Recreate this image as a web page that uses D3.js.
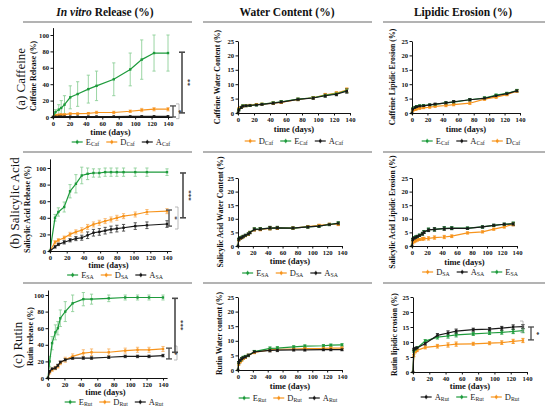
<!DOCTYPE html>
<html>
<head>
<meta charset="utf-8">
<script src="https://cdn.jsdelivr.net/npm/d3@7"></script>
<style>
  body { margin: 0; background: #fff; }
  svg { display: block; }
  text { font-family: "Liberation Serif", "Times New Roman", serif; }
</style>
</head>
<body>
<svg id="fig" width="550" height="409"></svg>
<script>
// ---- tick labels ----
var xTicks = [0, 20, 40, 60, 80, 100, 120, 140];
var relTicks = [0, 20, 40, 60, 80, 100];
var pctTicks = [0, 5, 10, 15, 20, 25];

// ---- (a) caffeine ----
var cafRelDays = [0, 3, 7, 10, 14, 21, 30, 43, 53, 74, 94, 108, 123, 140];
var cafRelE   = [0, 6, 9, 11, 15, 24, 28, 34, 38, 46, 58, 70, 78, 78];
var cafRelEsd = [0, 3, 6, 9, 11, 14, 15, 17, 18, 20, 20, 24, 22, 22];
var cafRelD   = [0, 2, 2.5, 3, 3, 4, 4, 4.5, 5.5, 5.5, 7, 8.5, 9.5, 9.5];
var cafRelDsd = [0, 1, 1, 1, 1, 1, 1, 1, 1.5, 1.5, 1.5, 2, 2, 2];
var cafRelA   = [0, 0.3, 0.4, 0.4, 0.5, 0.5, 0.5, 0.5, 0.6, 0.6, 0.7, 0.8, 0.8, 0.8];
var cafRelAsd = [0, 0.2, 0.2, 0.2, 0.2, 0.2, 0.2, 0.3, 0.3, 0.3, 0.3, 0.3, 0.3, 0.3];

var cafDays  = [0, 1, 4, 6, 10, 15, 23, 30, 44, 54, 75, 94, 109, 123, 136];
var cafWatD  = [0, 1.5, 2.0, 2.4, 2.5, 2.7, 3.0, 3.1, 3.4, 3.7, 4.7, 5.3, 6.3, 6.9, 8.0];
var cafWatE  = [0, 1.2, 2.0, 2.5, 2.5, 2.6, 2.8, 3.1, 3.5, 3.9, 4.8, 5.3, 6.1, 6.7, 7.8];
var cafWatA  = [0, 1.0, 1.9, 2.4, 2.5, 2.6, 2.8, 3.0, 3.4, 3.8, 4.7, 5.2, 6.0, 6.5, 7.6];
var cafWatSd = [0, 0.3, 0.3, 0.3, 0.3, 0.3, 0.3, 0.3, 0.4, 0.4, 0.4, 0.4, 0.5, 0.5, 0.7];
var cafEroE  = [0, 1.5, 2.0, 2.3, 2.5, 2.6, 2.8, 3.0, 3.5, 3.8, 4.6, 5.2, 6.2, 6.8, 7.8];
var cafEroA  = [0, 1.3, 1.9, 2.2, 2.4, 2.5, 2.8, 3.1, 3.5, 3.9, 4.6, 5.1, 6.0, 6.7, 7.7];
var cafEroD  = [0, 0.8, 1.2, 1.4, 1.6, 1.8, 2.0, 2.3, 2.6, 2.9, 3.4, 4.8, 5.5, 6.4, 7.6];
var cafEroSd = [0, 0.3, 0.3, 0.3, 0.3, 0.3, 0.3, 0.3, 0.4, 0.4, 0.4, 0.4, 0.4, 0.4, 0.4];

// ---- (b) salicylic acid ----
var saRelDays = [0, 6, 10, 17, 24, 31, 38, 45, 52, 59, 66, 73, 80, 88, 102, 116, 140];
var saRelE   = [0, 40, 47, 53, 72, 81, 91, 93, 94, 94, 95, 95, 95, 95, 95, 95, 95];
var saRelEsd = [0, 4, 5, 6, 8, 11, 10, 7, 5, 5, 5, 5, 5, 5, 5, 5, 4];
var saRelD   = [0, 10.5, 13, 16, 20, 23, 25, 29, 32, 34, 36, 38, 40, 42, 44, 47, 48];
var saRelDsd = [0, 2, 2, 2, 2.5, 2.5, 3, 3, 3, 3, 3, 3, 3, 3, 3, 3, 3];
var saRelA   = [0, 5, 8, 10.5, 13, 15, 16, 19, 22, 23, 24.5, 26, 27, 28, 30, 31, 32.5];
var saRelAsd = [0, 1.5, 1.5, 2, 2, 2.5, 3, 4, 4, 4, 4, 4, 4, 4, 4, 4, 4];

var saDays  = [0, 1, 3, 5, 7, 10, 14, 16, 22, 30, 43, 53, 74, 94, 109, 123, 135];
var saWatE  = [0, 2.5, 3.0, 3.2, 3.5, 3.9, 4.4, 5.0, 6.2, 6.3, 6.6, 6.7, 6.6, 7.0, 7.3, 7.9, 8.4];
var saWatD  = [0, 2.2, 2.8, 3.1, 3.4, 3.8, 4.3, 5.0, 6.0, 6.1, 6.5, 6.6, 6.6, 7.1, 7.6, 8.0, 8.0];
var saWatA  = [0, 2.4, 2.9, 3.1, 3.5, 3.9, 4.4, 4.9, 6.1, 6.2, 6.6, 6.7, 6.6, 7.0, 7.3, 7.9, 8.3];
var saWatSd = [0, 0.4, 0.4, 0.4, 0.4, 0.4, 0.4, 0.4, 0.5, 0.5, 0.6, 0.5, 0.4, 0.4, 0.4, 0.4, 0.5];
var saEroE  = [0, 2.5, 3.0, 3.3, 3.5, 4.0, 4.5, 5.2, 6.0, 6.1, 6.5, 6.6, 6.6, 7.0, 7.6, 8.0, 8.2];
var saEroA  = [0, 2.3, 2.9, 3.2, 3.5, 3.9, 4.5, 5.1, 5.9, 6.1, 6.4, 6.5, 6.5, 7.0, 7.6, 8.0, 8.1];
var saEroD  = [0, 1.2, 1.6, 1.9, 2.2, 2.4, 2.6, 2.7, 2.8, 3.1, 3.3, 3.6, 4.8, 5.2, 6.2, 7.0, 8.0];
var saEroSd = [0, 0.4, 0.4, 0.4, 0.4, 0.4, 0.5, 0.5, 0.6, 0.6, 0.6, 0.5, 0.4, 0.4, 0.4, 0.4, 0.6];

// ---- (c) rutin ----
var rutRelDays = [0, 2, 5, 9, 12, 15, 21, 30, 43, 53, 74, 94, 109, 123, 140];
var rutRelE   = [0, 20, 42, 55, 60, 72, 80, 90, 95, 95, 96, 97, 97, 97, 97];
var rutRelEsd = [0, 6, 8, 9, 8, 10, 12, 10, 8, 6, 4, 3, 3, 3, 3];
var rutRelD   = [0, 7, 10, 12, 14, 18, 22, 26, 30, 31, 31, 33, 34, 34, 35];
var rutRelDsd = [0, 2, 2, 2, 2, 2, 3, 3, 4, 4, 4, 3, 3, 3, 3];
var rutRelA   = [0, 8, 11, 12, 15, 19, 22, 24, 24, 24, 25, 26, 26, 26, 27];
var rutRelAsd = [0, 1, 1, 1.5, 1.5, 1.5, 1.5, 1.5, 1.5, 1.5, 1.5, 1.5, 1.5, 1.5, 1.5];

var rutWatDays = [0, 1, 3, 5, 7, 10, 14, 22, 43, 53, 75, 90, 115, 125, 140];
var rutWatE  = [0, 2.5, 3.2, 3.8, 4.3, 4.6, 5.0, 6.3, 7.4, 7.5, 7.9, 8.2, 8.3, 8.5, 8.6];
var rutWatD  = [0, 2.0, 2.8, 3.4, 4.0, 4.4, 5.0, 6.0, 6.9, 7.1, 7.2, 7.3, 7.4, 7.5, 7.5];
var rutWatA  = [0, 2.5, 3.3, 3.8, 4.2, 4.5, 5.0, 6.2, 6.7, 6.8, 6.9, 6.9, 7.0, 7.0, 7.0];
var rutWatSd = [0, 0.4, 0.4, 0.4, 0.4, 0.4, 0.4, 0.4, 0.5, 0.5, 0.4, 0.4, 0.4, 0.4, 0.4];

var rutEroDays = [0, 1, 3, 5, 15, 30, 43, 53, 74, 94, 109, 123, 135];
var rutEroA  = [0, 7.5, 7.8, 8.0, 9.5, 12.2, 13.0, 13.6, 14.1, 14.3, 14.6, 15.0, 15.1];
var rutEroE  = [0, 7.0, 7.5, 8.0, 10.3, 11.6, 12.0, 12.4, 12.7, 13.0, 13.2, 13.5, 13.8];
var rutEroD  = [0, 5.5, 6.8, 7.2, 8.2, 8.6, 9.0, 9.3, 9.4, 9.6, 9.8, 10.2, 10.5];
var rutEroSd = [0, 0.4, 0.4, 0.4, 0.5, 0.6, 0.7, 0.7, 0.5, 0.5, 0.6, 0.7, 0.7];

var colHeads = ["Release (%)", "Water Content (%)", "Lipidic Erosion (%)"];
var rowLabels = ["(a) Caffeine", "(b) Salicylic Acid", "(c) Rutin"];

var svg = d3.select("#fig");
var serif = '"Liberation Serif", "Times New Roman", serif';
var col = { E: "#1e9b3c", D: "#f7941d", A: "#1a1a1a" };
var softCol = { E: "#8fd09a", D: "#f8b468", A: "#444" };

// panel layout (pixel boxes) + references to the data arrays
var panels = [
  { left: 53, right: 168, bottom: 117, top: 35, yMax: 100, yExt: 109, xExt: 145, ticks: relTicks, soft: true,
    title: "Caffeine Release (%)", tx: 36, timeY: 135, legX: 121, legY: 142, sub: "Caf", order: ["E", "D", "A"],
    days: cafRelDays, E: [cafRelE, cafRelEsd], D: [cafRelD, cafRelDsd], A: [cafRelA, cafRelAsd] },
  { left: 238, right: 350, bottom: 113, top: 41, yMax: 25, yExt: 25, xExt: 140, ticks: pctTicks,
    title: "Caffeine Water Content (%)", tx: 220, timeY: 132, legX: 294, legY: 141, sub: "Caf", order: ["D", "E", "A"],
    days: cafDays, E: [cafWatE, cafWatSd], D: [cafWatD, cafWatSd], A: [cafWatA, cafWatSd] },
  { left: 412, right: 520, bottom: 113, top: 41, yMax: 25, yExt: 25, xExt: 140, ticks: pctTicks,
    title: "Caffeine Lipidic Erosion (%)", tx: 395, timeY: 132, legX: 471, legY: 141, sub: "Caf", order: ["E", "A", "D"],
    days: cafDays, E: [cafEroE, cafEroSd], D: [cafEroD, cafEroSd], A: [cafEroA, cafEroSd] },
  { left: 50, right: 167, bottom: 251, top: 168, yMax: 100, yExt: 111, xExt: 145, ticks: relTicks, soft: true,
    title: "Salicylic Acid Release (%)", tx: 30, timeY: 268, legX: 115, legY: 275, sub: "SA", order: ["E", "D", "A"],
    days: saRelDays, E: [saRelE, saRelEsd], D: [saRelD, saRelDsd], A: [saRelA, saRelAsd] },
  { left: 238, right: 342, bottom: 246, top: 178, yMax: 25, yExt: 25, xExt: 140, ticks: pctTicks,
    title: "Salicylic Acid Water Content (%)", tx: 223, timeY: 264, legX: 290, legY: 273, sub: "SA", order: ["E", "D", "A"],
    days: saDays, E: [saWatE, saWatSd], D: [saWatD, saWatSd], A: [saWatA, saWatSd] },
  { left: 412, right: 517, bottom: 246, top: 178, yMax: 25, yExt: 25, xExt: 140, ticks: pctTicks,
    title: "Salicylic Acid Lipidic Erosion (%)", tx: 395, timeY: 265, legX: 470, legY: 272, sub: "SA", order: ["D", "A", "E"],
    days: saDays, E: [saEroE, saEroSd], D: [saEroD, saEroSd], A: [saEroA, saEroSd] },
  { left: 48, right: 163, bottom: 378, top: 295, yMax: 100, yExt: 106, xExt: 145, ticks: relTicks, soft: true,
    title: "Rutin release (%)", tx: 33, timeY: 395, legX: 114, legY: 402, sub: "Rut", order: ["E", "D", "A"],
    days: rutRelDays, E: [rutRelE, rutRelEsd], D: [rutRelD, rutRelDsd], A: [rutRelA, rutRelAsd] },
  { left: 238, right: 342, bottom: 370, top: 297, yMax: 25, yExt: 25, xExt: 140, ticks: pctTicks,
    title: "Rutin Water content (%)", tx: 222, timeY: 389, legX: 288, legY: 398, sub: "Rut", order: ["E", "D", "A"],
    days: rutWatDays, E: [rutWatE, rutWatSd], D: [rutWatD, rutWatSd], A: [rutWatA, rutWatSd] },
  { left: 413, right: 527, bottom: 372, top: 297, yMax: 25, yExt: 25, xExt: 140, ticks: pctTicks,
    title: "Rutin lipidic erosion (%)", tx: 397, timeY: 389, legX: 470, legY: 397, sub: "Rut", order: ["A", "E", "D"],
    days: rutEroDays, E: [rutEroE, rutEroSd], D: [rutEroD, rutEroSd], A: [rutEroA, rutEroSd] }
];

// significance brackets: value range in data units, dx = offset from x(140)
var brackets = [
  { p: 0, kind: "group", dx: 11, v: [-2, 16] },
  { p: 0, kind: "small", dx: 5, v: [0, 13.5], label: "*" },
  { p: 0, kind: "big", dx: 14, v: [5, 79], label: "**" },
  { p: 3, kind: "group", dx: 11, v: [26.5, 53] },
  { p: 3, kind: "small", dx: 2, v: [30, 49.4], label: "*" },
  { p: 3, kind: "big", dx: 16, v: [40, 94], label: "***" },
  { p: 6, kind: "group", dx: 14, v: [21.7, 38.5] },
  { p: 6, kind: "small", dx: 6, v: [23, 36], label: "*" },
  { p: 6, kind: "big", dx: 12, v: [31, 96], label: "***" },
  { p: 8, kind: "group", dx: -4, v: [13.3, 17] },
  { p: 8, kind: "small", dx: 4, v: [10.7, 15], label: "*" }
];

// column headers and separators
var headX = [105, 287, 463];
colHeads.forEach(function (h, i) {
  var t = svg.append("text").attr("x", headX[i]).attr("y", 16)
    .attr("text-anchor", "middle").attr("font-size", 11.5).attr("font-weight", "bold").attr("fill", "#111");
  if (i == 0) t.append("tspan").attr("font-style", "italic").text("In vitro ");
  t.append("tspan").text(h);
});
var segs = [[23, 192], [203, 372], [383, 545]];
[22, 152, 283].forEach(function (yy) {
  segs.forEach(function (s) {
    svg.append("line").attr("x1", s[0]).attr("x2", s[1]).attr("y1", yy).attr("y2", yy)
      .attr("stroke", "#9a9a9a").attr("stroke-width", 1.4);
  });
});
var rowY = [79, 203, 345], rowX = [20, 14, 17];
rowLabels.forEach(function (r, i) {
  svg.append("text").attr("transform", "translate(" + rowX[i] + "," + rowY[i] + ") rotate(-90)")
    .attr("text-anchor", "middle").attr("dy", "0.35em").attr("font-size", 13).attr("fill", "#111").text(r);
});

panels.forEach(function (p) {
  var g = svg.append("g");
  var x = d3.scaleLinear().domain([0, 140]).range([p.left, p.right]);
  var y = d3.scaleLinear().domain([0, p.yMax]).range([p.bottom, p.top]);
  p.x = x; p.y = y;
  var xa = x.copy().domain([0, p.xExt]).range([p.left, x(p.xExt)]);
  var ya = y.copy().domain([0, p.yExt]).range([p.bottom, y(p.yExt)]);

  var keys = ["E", "D", "A"];
  // error bars
  keys.forEach(function (k) {
    var vals = p[k][0], sd = p[k][1];
    var c = p.soft ? softCol[k] : col[k];
    var eg = g.append("g").attr("stroke", c).attr("stroke-width", 0.9);
    p.days.forEach(function (d, i) {
      if (!sd[i]) return;
      var xx = x(d), y1 = y(Math.max(0, vals[i] - sd[i])), y2 = y(vals[i] + sd[i]);
      eg.append("line").attr("x1", xx).attr("x2", xx).attr("y1", y1).attr("y2", y2);
      eg.append("line").attr("x1", xx - 1.6).attr("x2", xx + 1.6).attr("y1", y1).attr("y2", y1);
      eg.append("line").attr("x1", xx - 1.6).attr("x2", xx + 1.6).attr("y1", y2).attr("y2", y2);
    });
  });
  // lines + markers
  var line = d3.line().x(function (d) { return x(d[0]); }).y(function (d) { return y(d[1]); });
  ["D", "E", "A"].forEach(function (k) {
    var pts = p.days.map(function (d, i) { return [d, p[k][0][i]]; });
    g.append("path").attr("d", line(pts)).attr("fill", "none")
      .attr("stroke", col[k]).attr("stroke-width", 1.2);
    g.append("g").selectAll("rect").data(pts).enter().append("rect")
      .attr("x", function (d) { return x(d[0]) - 1.2; })
      .attr("y", function (d) { return y(d[1]) - 1.2; })
      .attr("width", 2.4).attr("height", 2.4).attr("fill", col[k]);
  });

  // axes
  var ax = g.append("g").attr("transform", "translate(0," + p.bottom + ")")
    .call(d3.axisBottom(xa).tickValues(xTicks).tickSize(2.5).tickSizeOuter(0).tickPadding(1.5));
  var ay = g.append("g").attr("transform", "translate(" + p.left + ",0)")
    .call(d3.axisLeft(ya).tickValues(p.ticks).tickSize(2.5).tickSizeOuter(0).tickPadding(1.5));
  [ax, ay].forEach(function (a) {
    a.selectAll("path, line").attr("stroke", "#111").attr("stroke-width", 1);
    a.selectAll("text").attr("font-size", 6.6).attr("font-weight", "bold")
      .attr("font-family", serif).attr("fill", "#111");
  });

  // titles
  g.append("text").attr("transform", "translate(" + p.tx + "," + ((p.top + p.bottom) / 2) + ") rotate(-90)")
    .attr("text-anchor", "middle").attr("font-size", 7.8).attr("font-weight", "bold").attr("fill", "#111")
    .text(p.title);
  g.append("text").attr("x", (p.left + p.right) / 2).attr("y", p.timeY).attr("text-anchor", "middle")
    .attr("font-size", 8.5).attr("font-weight", "bold").attr("fill", "#111").text("time (days)");

  // legend
  var lg = g.append("g");
  var cx = 0;
  p.order.forEach(function (k) {
    var it = lg.append("g").attr("transform", "translate(" + cx + ",0)");
    it.append("line").attr("x1", 0).attr("x2", 11).attr("y1", 0).attr("y2", 0)
      .attr("stroke", col[k]).attr("stroke-width", 1.2);
    it.append("rect").attr("x", 4.3).attr("y", -1.2).attr("width", 2.4).attr("height", 2.4).attr("fill", col[k]);
    it.append("line").attr("x1", 5.5).attr("x2", 5.5).attr("y1", -2.2).attr("y2", 2.2)
      .attr("stroke", col[k]).attr("stroke-width", 0.9);
    var t = it.append("text").attr("x", 14).attr("y", 2.5).attr("font-size", 8.5).attr("fill", "#222");
    t.append("tspan").text(k);
    t.append("tspan").attr("font-size", 5.8).attr("dy", 1.6).text(p.sub);
    cx += 14 + t.node().getComputedTextLength() + 7;
  });
  var w = cx - 7;
  lg.attr("transform", "translate(" + (p.legX - w / 2) + "," + p.legY + ")");
});

// brackets
brackets.forEach(function (b) {
  var p = panels[b.p];
  var xx = p.x(140) + b.dx, y1 = p.y(b.v[0]), y2 = p.y(b.v[1]);
  var bg = svg.append("g");
  if (b.kind == "group") {
    bg.attr("stroke", "#a8a8a8").attr("stroke-width", 0.8).attr("fill", "none");
    bg.append("path").attr("d", "M" + (xx - 3) + "," + y1 + "H" + xx + "V" + y2 + "H" + (xx - 3));
  } else {
    var sw = b.kind == "big" ? 1.6 : 1.3;
    bg.attr("stroke", "#4a4a4a").attr("stroke-width", sw);
    bg.append("line").attr("x1", xx).attr("x2", xx).attr("y1", y1).attr("y2", y2);
    bg.append("line").attr("x1", xx - 3).attr("x2", xx + 3).attr("y1", y1).attr("y2", y1);
    bg.append("line").attr("x1", xx - 3).attr("x2", xx + 3).attr("y1", y2).attr("y2", y2);
    svg.append("text").attr("transform", "translate(" + (xx + 4) + "," + ((y1 + y2) / 2) + ") rotate(90)")
      .attr("text-anchor", "middle").attr("font-size", 7).attr("font-weight", "bold").attr("fill", "#333")
      .text(b.label);
  }
});
</script>
</body>
</html>
